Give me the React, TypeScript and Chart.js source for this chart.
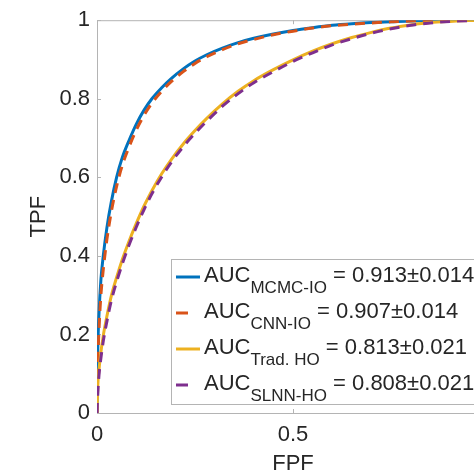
import React, { useEffect, useRef } from "react";
import { Chart, registerables } from "chart.js";

Chart.register(...registerables);

// ROC sample points
const fpf = [0, 0.002, 0.005, 0.01, 0.016, 0.025, 0.037, 0.05, 0.065, 0.08, 0.1, 0.12, 0.14, 0.165, 0.19, 0.22, 0.25, 0.28, 0.32, 0.36, 0.4, 0.45, 0.5, 0.55, 0.6, 0.65, 0.7, 0.75, 0.8, 0.85, 0.9, 0.95, 1];
const tpfMcmcIo = [0, 0.16, 0.25, 0.34, 0.4, 0.47, 0.54, 0.6, 0.652, 0.69, 0.735, 0.771, 0.8, 0.828, 0.852, 0.876, 0.896, 0.912, 0.929, 0.943, 0.954, 0.965, 0.974, 0.981, 0.987, 0.991, 0.994, 0.996, 0.998, 0.999, 0.9995, 1, 1];
const tpfCnnIo = [0, 0.12, 0.21, 0.3, 0.365, 0.44, 0.515, 0.577, 0.632, 0.673, 0.72, 0.758, 0.789, 0.819, 0.844, 0.869, 0.89, 0.907, 0.925, 0.94, 0.951, 0.963, 0.972, 0.98, 0.986, 0.99, 0.993, 0.996, 0.998, 0.999, 0.9995, 1, 1];
const tpfTradHo = [0, 0.07, 0.11, 0.155, 0.197, 0.245, 0.3, 0.345, 0.392, 0.433, 0.482, 0.527, 0.566, 0.609, 0.646, 0.685, 0.719, 0.75, 0.787, 0.819, 0.846, 0.874, 0.899, 0.921, 0.94, 0.956, 0.969, 0.98, 0.988, 0.994, 0.997, 0.999, 1];
const tpfSlnnHo = [0, 0.05, 0.095, 0.14, 0.183, 0.232, 0.288, 0.334, 0.381, 0.423, 0.473, 0.518, 0.558, 0.601, 0.639, 0.678, 0.712, 0.743, 0.781, 0.813, 0.841, 0.869, 0.895, 0.917, 0.937, 0.953, 0.967, 0.978, 0.987, 0.993, 0.997, 0.999, 1];

const seriesSubs = ["MCMC-IO", "CNN-IO", "Trad. HO", "SLNN-HO"];
const aucValues = ["0.913", "0.907", "0.813", "0.808"];
const aucStds = ["0.014", "0.014", "0.021", "0.021"];
const seriesColors = ["#0072BD", "#D95319", "#EDB120", "#7E2F8E"];
const seriesDashed = [false, true, false, true];

const xTicks = [0, 0.5, 1];
const yTicks = [0, 0.2, 0.4, 0.6, 0.8, 1];

const FONT = '"Liberation Sans", Arial, Helvetica, sans-serif';
const TEXT = "#262626";
const AXIS = "#b4b4b4";
const DASH = [10, 7];

const CANVAS_W = 540;
const CANVAS_H = 472;

const toPts = (ys: number[]) => fpf.map((x, i) => ({ x, y: ys[i] }));

const boxPlugin = {
  id: "matlabBox",
  beforeDatasetsDraw(chart: any) {
    const { ctx, chartArea: a, scales } = chart;
    ctx.save();
    ctx.strokeStyle = AXIS;
    ctx.lineWidth = 1;
    ctx.strokeRect(a.left + 0.5, a.top + 0.5, a.right - a.left, a.bottom - a.top);
    ctx.beginPath();
    for (const v of xTicks) {
      const px = Math.round(scales.x.getPixelForValue(v)) + 0.5;
      ctx.moveTo(px, a.bottom);
      ctx.lineTo(px, a.bottom - 4);
      ctx.moveTo(px, a.top);
      ctx.lineTo(px, a.top + 4);
    }
    for (const v of yTicks) {
      const py = Math.round(scales.y.getPixelForValue(v)) + 0.5;
      ctx.moveTo(a.left, py);
      ctx.lineTo(a.left + 4, py);
      ctx.moveTo(a.right, py);
      ctx.lineTo(a.right - 4, py);
    }
    ctx.stroke();
    ctx.restore();
  },
  afterDatasetsDraw(chart: any) {
    const { ctx, chartArea: a } = chart;
    ctx.save();
    // axis titles
    ctx.fillStyle = TEXT;
    ctx.font = `22px ${FONT}`;
    ctx.textAlign = "center";
    ctx.textBaseline = "alphabetic";
    ctx.fillText("FPF", (a.left + a.right) / 2, 470);
    ctx.save();
    ctx.translate(45, (a.top + a.bottom) / 2);
    ctx.rotate(-Math.PI / 2);
    ctx.fillText("TPF", 0, 0);
    ctx.restore();

    // legend
    const lx = 171, ly = 259, lh = 145, lw = 345;
    ctx.fillStyle = "#ffffff";
    ctx.fillRect(lx, ly, lw, lh);
    ctx.strokeStyle = AXIS;
    ctx.lineWidth = 1;
    ctx.strokeRect(lx + 0.5, ly + 0.5, lw, lh);
    ctx.textAlign = "left";
    for (let i = 0; i < seriesSubs.length; i++) {
      const base = 282 + i * 36;
      const ly2 = base - 5;
      ctx.strokeStyle = seriesColors[i];
      ctx.lineWidth = 3;
      ctx.setLineDash(seriesDashed[i] ? [12, 12] : []);
      ctx.beginPath();
      ctx.moveTo(176, ly2);
      ctx.lineTo(200, ly2);
      ctx.stroke();
      ctx.setLineDash([]);
      ctx.fillStyle = TEXT;
      let x = 204;
      ctx.font = `22px ${FONT}`;
      ctx.fillText("AUC", x, base);
      x += ctx.measureText("AUC").width;
      ctx.font = `17px ${FONT}`;
      ctx.fillText(seriesSubs[i], x, base + 11);
      x += ctx.measureText(seriesSubs[i]).width;
      ctx.font = `22px ${FONT}`;
      ctx.fillText(` = ${aucValues[i]}\u00B1${aucStds[i]}`, x, base);
    }
    ctx.restore();
  },
};

export default function App() {
  const ref = useRef<HTMLCanvasElement | null>(null);
  useEffect(() => {
    if (!ref.current) return;
    const series = [tpfMcmcIo, tpfCnnIo, tpfTradHo, tpfSlnnHo];
    const chart = new Chart(ref.current, {
      type: "line",
      data: {
        datasets: series.map((ys, i) => ({
          label: seriesSubs[i],
          data: toPts(ys),
          borderColor: seriesColors[i],
          backgroundColor: seriesColors[i],
          borderWidth: 3,
          borderDash: seriesDashed[i] ? DASH : [],
          pointRadius: 0,
          fill: false,
          cubicInterpolationMode: "monotone" as const,
          order: 4 - i,
        })),
      },
      options: {
        responsive: false,
        animation: false,
        devicePixelRatio: 1,
        layout: { padding: { left: 0, right: CANVAS_W - 489, top: 20, bottom: 0 } },
        plugins: { legend: { display: false }, tooltip: { enabled: false } },
        scales: {
          x: {
            type: "linear",
            min: 0,
            max: 1,
            afterFit: (s: any) => { s.height = CANVAS_H - 413; },
            afterBuildTicks: (s: any) => { s.ticks = xTicks.map((v) => ({ value: v })); },
            ticks: {
              color: TEXT,
              font: { family: FONT, size: 22 },
              padding: 9,
              maxRotation: 0,
              callback: (v: any) => String(Math.round(Number(v) * 10) / 10),
            },
            grid: { display: false, drawTicks: false },
            border: { display: false },
          },
          y: {
            type: "linear",
            min: 0,
            max: 1,
            afterFit: (s: any) => { s.width = 97; },
            afterBuildTicks: (s: any) => { s.ticks = yTicks.map((v) => ({ value: v })); },
            ticks: {
              color: TEXT,
              font: { family: FONT, size: 22 },
              padding: 7,
              callback: (v: any) => String(Math.round(Number(v) * 10) / 10),
            },
            grid: { display: false, drawTicks: false },
            border: { display: false },
          },
        },
      },
      plugins: [boxPlugin],
    });
    return () => chart.destroy();
  }, []);
  return (
    <div style={{ position: "fixed", left: 0, top: 0, width: 474, height: 472, overflow: "hidden", background: "#fff" }}>
      <canvas ref={ref} width={CANVAS_W} height={CANVAS_H} style={{ width: CANVAS_W, height: CANVAS_H, display: "block" }} />
    </div>
  );
}
